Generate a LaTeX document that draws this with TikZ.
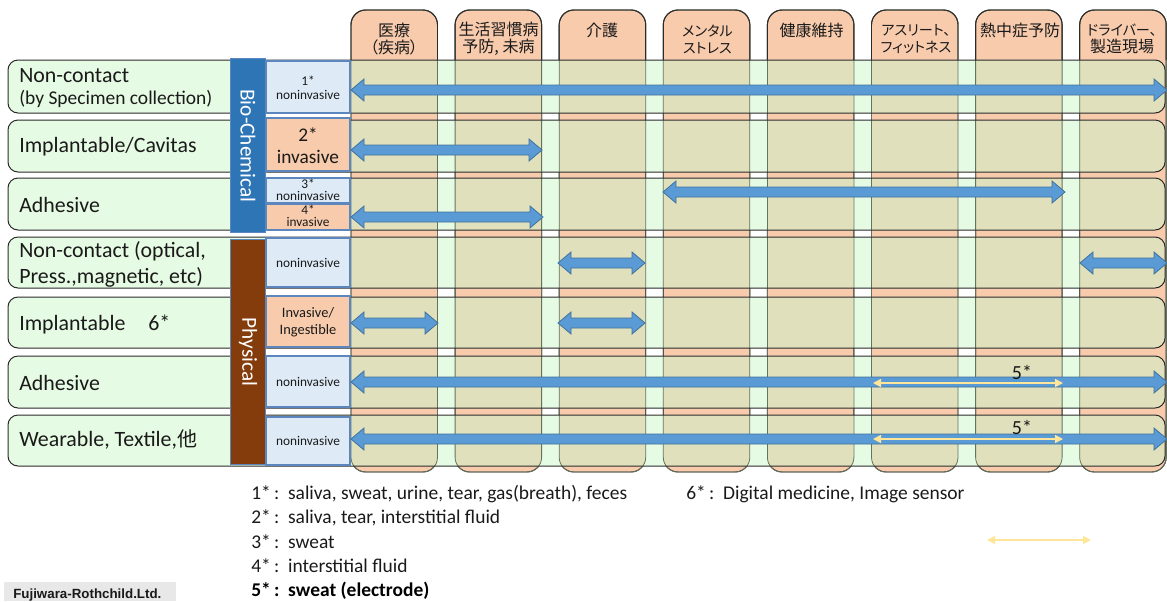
\documentclass[tikz,border=0pt]{standalone}
\usepackage{fontspec}
\setmainfont{Carlito}
\newfontfamily\jp[CharacterWidth=AlternateProportional]{Noto Sans CJK JP}
\newfontfamily\arialf{Liberation Sans}
\usetikzlibrary{arrows.meta}
\definecolor{colfill}{HTML}{F8CBAD}
\definecolor{rowfill}{HTML}{E6FBE3}
\definecolor{olivefill}{HTML}{E0E1BC}
\definecolor{bioblue}{HTML}{2E75B6}
\definecolor{physbrown}{HTML}{843C0C}
\definecolor{typeblue}{HTML}{DEEBF7}
\definecolor{typeedge}{HTML}{5B87BE}
\definecolor{arrfill}{HTML}{5B9BD5}
\definecolor{arredge}{HTML}{41719C}
\definecolor{yelarr}{HTML}{FFE699}
\definecolor{txt}{HTML}{1A1A1A}
\definecolor{coledge}{HTML}{66735C}
\definecolor{rowedge}{HTML}{2B2B2B}
\definecolor{graybox}{HTML}{E8E8E8}
\newcommand\blockarrow[3]{%
  \filldraw[blockarr] (#1,#3) -- (#1+13,#3-11) -- (#1+13,#3-5) -- (#2-13,#3-5)
    -- (#2-13,#3-11) -- (#2,#3) -- (#2-13,#3+11) -- (#2-13,#3+5)
    -- (#1+13,#3+5) -- (#1+13,#3+11) -- cycle;}
\begin{document}
\begin{tikzpicture}[x=0.75pt,y=-0.75pt,
  colbox/.style={fill=colfill,draw=rowedge,line width=0.7pt,rounded corners=11pt},
  rowbox/.style={fill=rowfill,rounded corners=7.5pt},
  rowline/.style={draw=rowedge,line width=0.75pt,rounded corners=7.5pt},
  collabel/.style={font=\jp\fontsize{12}{12.8}\selectfont,align=center,inner sep=0pt,text=txt},
  kanalabel/.style={collabel,font=\jp\fontsize{10.6}{12.8}\selectfont},
  rowlabel/.style={font=\fontsize{16.4}{19}\selectfont,anchor=west,inner sep=0pt,text=txt},
  typebox/.style={fill=typeblue,draw=typeedge,line width=0.9pt},
  typeinv/.style={fill=colfill,draw=typeedge,line width=0.9pt},
  typetext/.style={font=\fontsize{10}{10.5}\selectfont,align=center,inner sep=0pt,text=txt},
  bar/.style={draw=typeedge,line width=0.6pt},
  bartext/.style={font=\fontsize{16}{18}\selectfont,text=white,rotate=-90,inner sep=0pt},
  blockarr/.style={fill=arrfill,draw=arredge,line width=0.6pt,line join=miter},
  yarr/.style={draw=yelarr,line width=1.2pt,{Triangle[length=6pt,width=6pt]}-{Triangle[length=6pt,width=6pt]}},
  foot/.style={font=\fontsize{14.6}{16}\selectfont,anchor=west,inner sep=0pt,text=txt}
]
\useasboundingbox (0,0) rectangle (1167,601);
\clip (0,0) rectangle (1167,601);
\fill[white] (0,0) rectangle (1167,601);

% columns
\foreach \i in {0,...,7}{
  \path[colbox] (351+104.1*\i,10) rectangle ++(86.5,462);
}
% rows
\foreach \t/\b in {60/113,120/172,178/230,237/288,297/348,356/408,415/466}{
  \path[rowbox] (8,\t) rectangle (1165,\b);
}
% overlaps
\foreach \i in {0,...,7}{
  \begin{scope}
    \clip[rounded corners=11pt] (351+104.1*\i,10) rectangle ++(86.5,462);
    \foreach \t/\b in {60/113,120/172,178/230,237/288,297/348,356/408,415/466}{
      \fill[olivefill,rounded corners=7.5pt] (8,\t) rectangle (1165,\b);
    }
  \end{scope}
  \draw[coledge,line width=0.6pt,rounded corners=11pt] (351+104.1*\i,10) rectangle ++(86.5,462);
}
\foreach \t/\b in {60/113,120/172,178/230,237/288,297/348,356/408,415/466}{
  \path[rowline] (8,\t) rectangle (1165,\b);
}
\foreach \i in {0,...,7}{
  \draw[rowedge,line width=0.7pt,rounded corners=11pt] (351+104.1*\i,60) -- (351+104.1*\i,10) -- ++(86.5,0) -- ++(0,50);
}

% column labels
\node[collabel] (c1) at (394,39) {医療\\（疾病）};
\node[collabel] (c2) at (498.5,39) {生活習慣病\\予防, 未病};
\node[collabel] (c3) at (602,30) {介護};
\node[kanalabel] (c4) at (707.5,39) {メンタル\\ストレス};
\node[collabel] (c5) at (811.5,30) {健康維持};
\node[kanalabel] (c6) at (916,39) {アスリート、\\フィットネス};
\node[collabel] (c7) at (1020,30) {熱中症予防};
\node[kanalabel] (c8) at (1122,39) {ドライバー、\\{\fontsize{12}{12.8}\selectfont 製造現場}};

% row labels
\node[rowlabel] (l1a) at (19,76) {Non-contact};
\node[rowlabel,font=\fontsize{14.6}{17}\selectfont] (l1b) at (19,99) {(by Specimen collection)};
\node[rowlabel] (l2) at (19,147) {Implantable/Cavitas};
\node[rowlabel] (l3) at (19,205) {Adhesive};
\node[rowlabel] (l4a) at (19,251) {Non-contact (optical,};
\node[rowlabel] (l4b) at (19,277) {Press.,magnetic, etc)};
\node[rowlabel] (l5) at (19,324) {Implantable\hspace{1.05em}6*};
\node[rowlabel] (l6) at (19,383) {Adhesive};
\node[rowlabel] (l7) at (19,440) {Wearable, Textile,{\jp\fontsize{15}{18}\selectfont 他}};

% category bars
\filldraw[bar,fill=bioblue] (230,58) rectangle (265,232);
\node[bartext] (bio) at (248,146) {Bio-Chemical};
\filldraw[bar,fill=physbrown] (230,239) rectangle (265,464);
\node[bartext] (phys) at (248,352) {Physical};

% type boxes
\filldraw[typebox] (266,61) rectangle (350,113);
\node[typetext] (t1) at (308,88) {1*\\noninvasive};
\filldraw[typeinv] (266,118) rectangle (350,171);
\node[typetext,font=\fontsize{14.5}{16.5}\selectfont] (t2) at (308,146) {2*\\invasive};
\filldraw[typebox] (266,178) rectangle (350,203);
\node[typetext,font=\fontsize{10}{9}\selectfont] (t3) at (308,190) {3*\\noninvasive};
\filldraw[typeinv] (266,204) rectangle (350,230);
\node[typetext,font=\fontsize{10}{9}\selectfont] (t4) at (308,216) {4*\\invasive};
\filldraw[typebox] (266,238) rectangle (350,287);
\node[typetext] (t5) at (308,263) {noninvasive};
\filldraw[typeinv] (266,296) rectangle (350,347);
\node[typetext,font=\fontsize{10.8}{13}\selectfont] (t6) at (308,322) {Invasive/\\Ingestible};
\filldraw[typebox] (266,356) rectangle (350,407);
\node[typetext] (t7) at (308,382) {noninvasive};
\filldraw[typebox] (266,417) rectangle (350,465);
\node[typetext] (t8) at (308,441) {noninvasive};

% block arrows
\blockarrow{351}{1167}{90}
\blockarrow{351}{542}{150}
\blockarrow{663}{1065}{192}
\blockarrow{351}{543}{217}
\blockarrow{558}{645}{263}
\blockarrow{1080}{1167}{263}
\blockarrow{351}{438}{323}
\blockarrow{558}{645}{323}
\blockarrow{351}{1167}{382}
\blockarrow{351}{1167}{439}

% yellow arrows
\coordinate (y1a) at (873,383); \coordinate (y1b) at (1063,383);
\coordinate (y2a) at (873,439); \coordinate (y2b) at (1063,439);
\coordinate (y3a) at (987,540); \coordinate (y3b) at (1091,540);
\draw[yarr] (y1a) -- (y1b);
\draw[yarr] (y2a) -- (y2b);
\draw[yarr] (y3a) -- (y3b);
\node[font=\fontsize{15}{17}\selectfont,text=txt,inner sep=0pt] (f5a) at (1022,372) {5*};
\node[font=\fontsize{15}{17}\selectfont,text=txt,inner sep=0pt] (f5b) at (1022,427) {5*};

% footnotes
\node[foot] (n1) at (251,494) {1*\,:\ \ saliva, sweat, urine, tear, gas(breath), feces};
\node[foot] (n2) at (251,518) {2*\,:\ \ saliva, tear, interstitial fluid};
\node[foot] (n3) at (251,542) {3*\,:\ \ sweat};
\node[foot] (n4) at (251,566) {4*\,:\ \ interstitial fluid};
\node[foot,text=black,font=\bfseries\fontsize{14.6}{16}\selectfont] (n5) at (251,591) {5*\,:\ \ sweat (electrode)};
\node[foot] (n6) at (686,494) {6*\,:\ \ Digital medicine, Image sensor};

% credit
\fill[graybox] (4,582) rectangle (176,601);
\node[font=\arialf\bfseries\fontsize{10}{12}\selectfont,anchor=base west,inner sep=0pt,text=txt] (cred) at (13,598) {Fujiwara-Rothchild.Ltd.};
\end{tikzpicture}
\end{document}
